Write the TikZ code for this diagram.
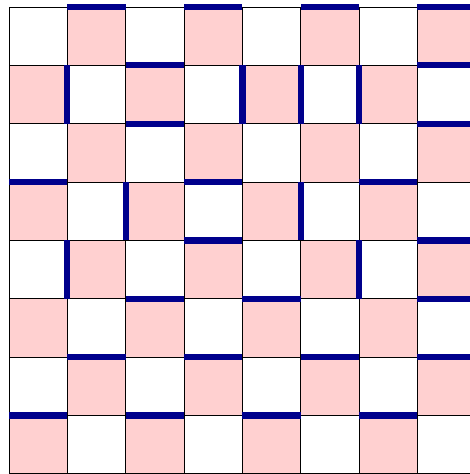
\documentclass[tikz,border=0pt]{standalone}
\definecolor{cellpink}{RGB}{255,208,208}
\definecolor{barblue}{RGB}{0,0,140}
\tikzset{
  cellfill/.style={fill=cellpink, draw=none},
  gridline/.style={draw=black, line width=0.6pt},
  bar/.style={draw=barblue, line width=4.7pt, line cap=butt}
}
\begin{document}
\begin{tikzpicture}[x=0.75pt, y=-0.75pt]
\useasboundingbox (0,0) rectangle (470,474);
\clip (0,0) rectangle (470,474);
\def\cs{58.35}
% cells
\foreach \r in {0,...,7}{
  \foreach \c in {0,...,7}{
    \pgfmathtruncatemacro{\odd}{mod(\r+\c,2)}
    \ifnum\odd=1
      \fill[cellfill] ({9+\c*\cs},{7+\r*\cs}) rectangle ({9+(\c+1)*\cs},{7+(\r+1)*\cs});
    \fi
  }
}
% grid
\foreach \i in {0,...,8}{
  \draw[gridline] (9,{7+\i*\cs}) -- ({9+8*\cs},{7+\i*\cs});
  \draw[gridline] ({9+\i*\cs},7) -- ({9+\i*\cs},{7+8*\cs});
}
% horizontal bars: line/column
\foreach \i/\c in {0/1,0/3,0/5,0/7,
                   1/2,1/7,
                   2/2,2/7,
                   3/0,3/3,3/6,
                   4/3,4/7,
                   5/2,5/4,5/7,
                   6/1,6/3,6/5,6/7,
                   7/0,7/2,7/4,7/6}{
  \draw[bar] ({9+\c*\cs},{7+\i*\cs}) -- ({9+(\c+1)*\cs},{7+\i*\cs});
}
% vertical bars: line/row
\foreach \j/\r in {1/1,4/1,5/1,6/1,
                   2/3,5/3,
                   1/4,6/4}{
  \draw[bar] ({9+\j*\cs},{7+\r*\cs}) -- ({9+\j*\cs},{7+(\r+1)*\cs});
}
\end{tikzpicture}
\end{document}
